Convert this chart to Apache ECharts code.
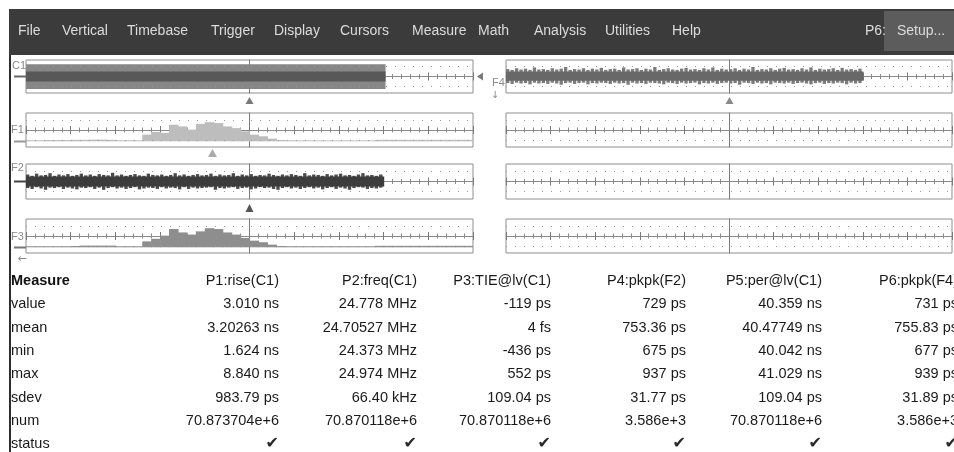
<!DOCTYPE html>
<html><head><meta charset="utf-8">
<script src="https://cdn.jsdelivr.net/npm/echarts@6/dist/echarts.min.js"></script>
<style>html,body{margin:0;padding:0;background:#fff}#c{width:954px;height:452px}</style>
</head><body><div id="c"></div>
<script>
// ---------- DATA ----------
const MENU_ITEMS = ['File','Vertical','Timebase','Trigger','Display','Cursors','Measure','Math','Analysis','Utilities','Help'];
const PANEL_LABELS = ['C1','F1','F2','F3','F4'];

const MEASURE_TITLE = 'Measure';
const MEASURE_ROWS = ['value','mean','min','max','sdev','num','status'];
const MEASURE_HEADERS = ['P1:rise(C1)','P2:freq(C1)','P3:TIE@lv(C1)','P4:pkpk(F2)','P5:per@lv(C1)','P6:pkpk(F4)'];
const P1_VALUES = ['3.010 ns','3.20263 ns','1.624 ns','8.840 ns','983.79 ps','70.873704e+6','\u2714'];
const P2_VALUES = ['24.778 MHz','24.70527 MHz','24.373 MHz','24.974 MHz','66.40 kHz','70.870118e+6','\u2714'];
const P3_VALUES = ['-119 ps','4 fs','-436 ps','552 ps','109.04 ps','70.870118e+6','\u2714'];
const P4_VALUES = ['729 ps','753.36 ps','675 ps','937 ps','31.77 ps','3.586e+3','\u2714'];
const P5_VALUES = ['40.359 ns','40.47749 ns','40.042 ns','41.029 ns','109.04 ps','70.870118e+6','\u2714'];
const P6_VALUES = ['731 ps','755.83 ps','677 ps','939 ps','31.89 ps','3.586e+3','\u2714'];

// C1: acquired clock band (divisions): time span, outer and inner level band
const C1_SPAN = [-5, 3.03];
const C1_OUTER = [-3.0, 3.0];
const C1_INNER = [-1.2, 1.2];

// Histogram bins: start -5 div, width 0.2 div, heights above baseline (div)
const HIST_START = -5;
const HIST_STEP = 0.2;
const HIST_BASE = -2.66;
const HIST_F1 = [0.25,0.25,0.3,0.3,0.3,0.35,0.35,0.4,0.4,0.35,
  0.25,0.25,0.25,1.57,2.2,2.0,3.9,3.5,2.75,4.1,
  4.5,4.3,3.5,3.1,2.35,1.57,1.18,0.63,0.3,0.25,
  0.22,0.22,0.22,0.22,0.22,0.22,0.22,0.22,0.22,0.35,
  0.35,0.35,0.35,0.35,0.35,0.35,0.35,0.35,0.35,0.35];
const HIST_F3 = [0.25,0.25,0.25,0.25,0.25,0.3,0.4,0.4,0.4,0.4,
  0.25,0.25,0.25,1.4,2.0,2.75,4.3,3.5,3.0,3.75,
  4.5,4.3,3.5,3.0,2.2,1.57,1.2,0.63,0.3,0.25,
  0.25,0.25,0.25,0.25,0.25,0.25,0.25,0.25,0.25,0.35,
  0.35,0.35,0.35,0.35,0.35,0.35,0.35,0.35,0.35,0.35];

// Noise bands: start -5 div, step 0.1 div
const NOISE_START = -5;
const NOISE_STEP = 0.1;
const F2_CORE = [-1.15, 1.15];
const F2_HI = [1.6,1.3,1.8,1.4,1.5,1.9,1.3,1.6,1.4,1.7,
  1.3,1.5,1.8,1.4,1.6,1.3,1.7,1.5,1.4,2.0,
  1.4,1.6,1.3,1.5,1.7,1.4,1.3,1.8,1.5,1.4,
  1.6,1.3,1.5,1.9,1.4,1.6,1.3,1.5,1.7,1.4,
  1.5,1.8,1.3,1.6,1.4,1.5,1.9,1.3,1.6,1.4,
  1.7,1.3,1.5,1.4,1.8,1.5,1.3,1.6,1.4,1.7,
  1.5,1.3,1.9,1.4,1.6,1.5,1.3,1.7,1.4,1.6,
  1.8,1.4,1.5,1.3,1.6,1.9,1.4,1.5,1.3,1.6];
const F2_LO = [-1.5,-1.7,-1.3,-1.6,-1.9,-1.4,-1.5,-1.3,-1.7,-1.4,
  -1.6,-1.8,-1.4,-1.5,-1.3,-1.7,-1.4,-1.9,-1.5,-1.3,
  -1.6,-1.4,-1.7,-1.5,-1.3,-1.8,-1.6,-1.4,-1.5,-1.7,
  -1.3,-1.6,-1.4,-1.5,-1.8,-1.3,-1.7,-1.4,-1.6,-1.5,
  -1.4,-1.3,-1.9,-1.5,-1.6,-1.4,-1.3,-1.7,-1.5,-1.4,
  -1.8,-1.6,-1.3,-1.5,-1.4,-1.7,-1.9,-1.5,-1.3,-1.6,
  -1.4,-1.7,-1.5,-1.3,-1.6,-1.4,-1.8,-1.5,-1.3,-1.7,
  -1.4,-1.6,-1.9,-1.5,-1.3,-1.4,-1.7,-1.5,-1.6,-1.4];
const F4_CORE = [-1.0, 1.2];
const F4_HI = [1.8,1.6,2.0,1.7,1.9,1.6,2.2,1.7,1.8,1.6,
  2.0,1.7,1.9,2.3,1.6,1.8,1.7,2.0,1.6,1.9,
  1.7,2.1,1.6,1.8,1.9,1.6,2.2,1.7,1.8,2.0,
  1.6,1.9,1.7,2.3,1.6,1.8,2.0,1.7,1.6,1.9,
  2.1,1.7,1.8,1.6,2.0,1.7,2.2,1.6,1.9,1.7,
  1.8,2.0,1.6,1.9,1.7,2.3,1.6,1.8,1.7,2.0,
  1.6,1.9,2.1,1.7,1.8,1.6,2.0,1.7,2.2,1.6,
  1.9,1.7,1.8,2.0,1.6,2.1,1.7,1.8,1.6,1.9];
const F4_LO = [-1.6,-1.8,-1.5,-1.7,-1.6,-1.9,-1.5,-1.7,-1.6,-1.8,
  -1.5,-1.7,-2.0,-1.6,-1.5,-1.8,-1.6,-1.5,-1.9,-1.6,
  -1.7,-1.5,-1.6,-1.8,-1.5,-1.7,-1.6,-2.0,-1.5,-1.7,
  -1.6,-1.8,-1.5,-1.6,-1.7,-1.9,-1.5,-1.6,-1.8,-1.5,
  -1.7,-1.6,-1.5,-1.9,-1.6,-1.7,-1.5,-1.8,-1.6,-1.5,
  -1.7,-1.6,-2.0,-1.5,-1.6,-1.8,-1.5,-1.7,-1.6,-1.9,
  -1.5,-1.6,-1.7,-1.5,-1.8,-1.6,-1.5,-1.7,-1.9,-1.6,
  -1.5,-1.8,-1.6,-1.7,-1.5,-1.6,-1.9,-1.5,-1.7,-1.6];

// ---------- LAYOUT ----------
const PANELS = [
  {left:26, top:60,  width:447, height:33},
  {left:26, top:113, width:447, height:34},
  {left:26, top:164, width:447, height:35},
  {left:26, top:219, width:447, height:34},
  {left:506, top:60,  width:446, height:33},
  {left:506, top:113, width:446, height:34},
  {left:506, top:164, width:446, height:35},
  {left:506, top:219, width:446, height:34}
];
const MENU_X = [18,62,127,211,274,340,412,478,534,605,672];
const COL_RIGHT = [279,417,551,686,822,958];
const ROW_Y = [281,304.3,327.7,351,374.3,397.7,421,444.3];
const FONT = '"Liberation Sans", Arial, sans-serif';

// ---------- BUILD ----------
const chart = echarts.init(document.getElementById('c'), null, {renderer:'canvas'});

const grids = PANELS.map(p => ({left:p.left, top:p.top, width:p.width, height:p.height,
  show:true, borderColor:'#8e8e8e', borderWidth:1, backgroundColor:'transparent'}));

const xAxes = [], yAxes = [];
PANELS.forEach((p, i) => {
  ['bottom','top'].forEach(pos => {
    xAxes.push({type:'value', gridIndex:i, min:-5, max:5, interval:1, position:pos,
      axisLine:{show:pos==='bottom', onZero:true, onZeroAxisIndex:i, lineStyle:{color:'#8a8a8a', width:1}},
      axisTick:{show:true, inside:false, length:4, lineStyle:{color:'#7a7a7a', width:1}},
      minorTick:{show:true, splitNumber:5, length:2.5, lineStyle:{color:'#8a8a8a', width:1}},
      axisLabel:{show:false}, splitLine:{show:false}, minorSplitLine:{show:false}});
  });
  yAxes.push({type:'value', gridIndex:i, min:-4, max:4,
    axisLine:{show:true, onZero:true, onZeroAxisIndex:2*i, lineStyle:{color:'#7a7a7a', width:1}},
    axisTick:{show:false}, axisLabel:{show:false}, splitLine:{show:false}});
});

function makeRect(frac) {
  return function (params, api) {
    const a = api.coord([api.value(0), api.value(3)]);
    const b = api.coord([api.value(1), api.value(2)]);
    const w = b[0] - a[0];
    return {type:'rect', shape:{x:a[0], y:a[1], width:frac ? w*frac : w + 0.6, height:b[1]-a[1]},
      style:{fill:api.visual('color')}};
  };
}
function customRects(panel, data, color, frac) {
  return {type:'custom', xAxisIndex:2*panel, yAxisIndex:panel, renderItem:makeRect(frac),
    data:data, itemStyle:{color:color}, silent:true, clip:true, z:3};
}
function histData(heights) {
  return heights.map((h, k) => [HIST_START + HIST_STEP*k, HIST_START + HIST_STEP*(k+1), HIST_BASE, HIST_BASE + h]);
}
function noiseData(lo, hi) {
  return lo.map((v, k) => [NOISE_START + NOISE_STEP*k, NOISE_START + NOISE_STEP*(k+1), v, hi[k]]);
}

const series = [];
PANELS.forEach((p, i) => {
  const d = 10 / (p.height / 8);
  series.push({type:'line', xAxisIndex:2*i, yAxisIndex:i, data:[], silent:true, z:2,
    markLine:{silent:true, symbol:'none', animation:false, label:{show:false},
      lineStyle:{color:'#9a9a9a', type:[1,8], width:1},
      data:[{yAxis:d},{yAxis:-d}]}});
});
series.push(customRects(0, [[C1_SPAN[0], C1_SPAN[1], C1_OUTER[0], C1_OUTER[1]]], '#878787'));
series.push(customRects(0, [[C1_SPAN[0], C1_SPAN[1], C1_INNER[0], C1_INNER[1]]], '#585858'));
series.push(customRects(1, histData(HIST_F1), '#bdbdbd'));
series.push(customRects(2, noiseData(F2_LO, F2_HI), '#4c4c4c', 0.75));
series.push(customRects(2, [[NOISE_START, NOISE_START + NOISE_STEP*F2_HI.length, F2_CORE[0], F2_CORE[1]]], '#3c3c3c'));
series.push(customRects(3, histData(HIST_F3), '#8e8e8e'));
series.push(customRects(4, noiseData(F4_LO, F4_HI), '#7c7c7c', 0.75));
series.push(customRects(4, [[NOISE_START, NOISE_START + NOISE_STEP*F4_HI.length, F4_CORE[0], F4_CORE[1]]], '#686868'));

// ---------- GRAPHIC (frame, menu, labels, table) ----------
function txt(x, y, s, font, fill, align) {
  return {type:'text', silent:true, z:10, style:{x:x, y:y, text:s, font:font, fill:fill,
    align:align||'left', verticalAlign:'middle', textAlign:align||'left', textVerticalAlign:'middle'}};
}
function tri(cx, cy, w, h, fill, dir) {
  let pts;
  if (dir === 'left') pts = [[cx - w/2, cy], [cx + w/2, cy - h/2], [cx + w/2, cy + h/2]];
  else pts = [[cx, cy - h/2], [cx + w/2, cy + h/2], [cx - w/2, cy + h/2]];
  return {type:'polygon', silent:true, z:10, shape:{points:pts}, style:{fill:fill}};
}
function hline(x1, x2, y, color, w) {
  return {type:'line', silent:true, z:10, shape:{x1:x1, y1:y, x2:x2, y2:y}, style:{stroke:color, lineWidth:w||1}};
}

const els = [];
els.push({type:'rect', silent:true, z:5, shape:{x:9, y:9, width:945, height:46}, style:{fill:'#3b3b3b'}});
els.push({type:'rect', silent:true, z:6, shape:{x:884, y:11, width:70, height:40}, style:{fill:'#5c5c5c'}});
MENU_ITEMS.forEach((m, k) => els.push(txt(MENU_X[k], 31, m, '14px ' + FONT, '#dcdcdc')));
els.push(txt(865, 31, 'P6:', '14px ' + FONT, '#dcdcdc'));
els.push(txt(897, 31, 'Setup...', '14px ' + FONT, '#dcdcdc'));
els.push({type:'rect', silent:true, z:5, shape:{x:9, y:55, width:2, height:397}, style:{fill:'#2e2e2e'}});

// panel labels and markers
els.push(txt(12, 66, PANEL_LABELS[0], '11px ' + FONT, '#8a8a8a'));
els.push(txt(11, 130, PANEL_LABELS[1], '11px ' + FONT, '#8a8a8a'));
els.push(txt(11, 168, PANEL_LABELS[2], '11px ' + FONT, '#8a8a8a'));
els.push(txt(11, 237, PANEL_LABELS[3], '11px ' + FONT, '#8a8a8a'));
els.push(txt(492, 83, PANEL_LABELS[4], '11px ' + FONT, '#8a8a8a'));
els.push(hline(14, 26, 76.5, '#666', 2));
els.push(hline(14, 26, 141.5, '#999', 2));
els.push(hline(14, 26, 181.5, '#444', 2));
els.push(hline(14, 26, 247.5, '#777', 2));
els.push(tri(249.5, 100.5, 8, 7, '#7a7a7a'));
els.push(tri(212.5, 153, 9, 8, '#ababab'));
els.push(tri(249.5, 208, 8, 8, '#555555'));
els.push(tri(729.5, 100.5, 8, 7, '#8a8a8a'));
els.push(tri(480, 76.5, 6, 8, '#7a7a7a', 'left'));
els.push(txt(495, 95, '\u2193', '10px "DejaVu Sans"', '#8a8a8a', 'center'));
els.push(txt(22, 259.5, '\u2190', '11px "DejaVu Sans"', '#8a8a8a', 'center'));

// measurement table
const COLS = [P1_VALUES, P2_VALUES, P3_VALUES, P4_VALUES, P5_VALUES, P6_VALUES];
els.push(txt(11, ROW_Y[0], MEASURE_TITLE, 'bold 14.5px ' + FONT, '#111'));
MEASURE_HEADERS.forEach((h, j) => els.push(txt(COL_RIGHT[j], ROW_Y[0], h, '14.5px ' + FONT, '#1a1a1a', 'right')));
MEASURE_ROWS.forEach((r, k) => {
  els.push(txt(11, ROW_Y[k+1], r, '14.5px ' + FONT, '#1a1a1a'));
  COLS.forEach((col, j) => {
    const isCheck = col[k] === '\u2714';
    els.push(txt(COL_RIGHT[j], ROW_Y[k+1], col[k],
      isCheck ? '16px "DejaVu Sans"' : '14.5px ' + FONT, isCheck ? '#2a2a2a' : '#1a1a1a', 'right'));
  });
});

chart.setOption({
  animation:false,
  backgroundColor:'#ffffff',
  grid:grids,
  xAxis:xAxes,
  yAxis:yAxes,
  series:series,
  graphic:{elements:els}
});
</script>
</body></html>
